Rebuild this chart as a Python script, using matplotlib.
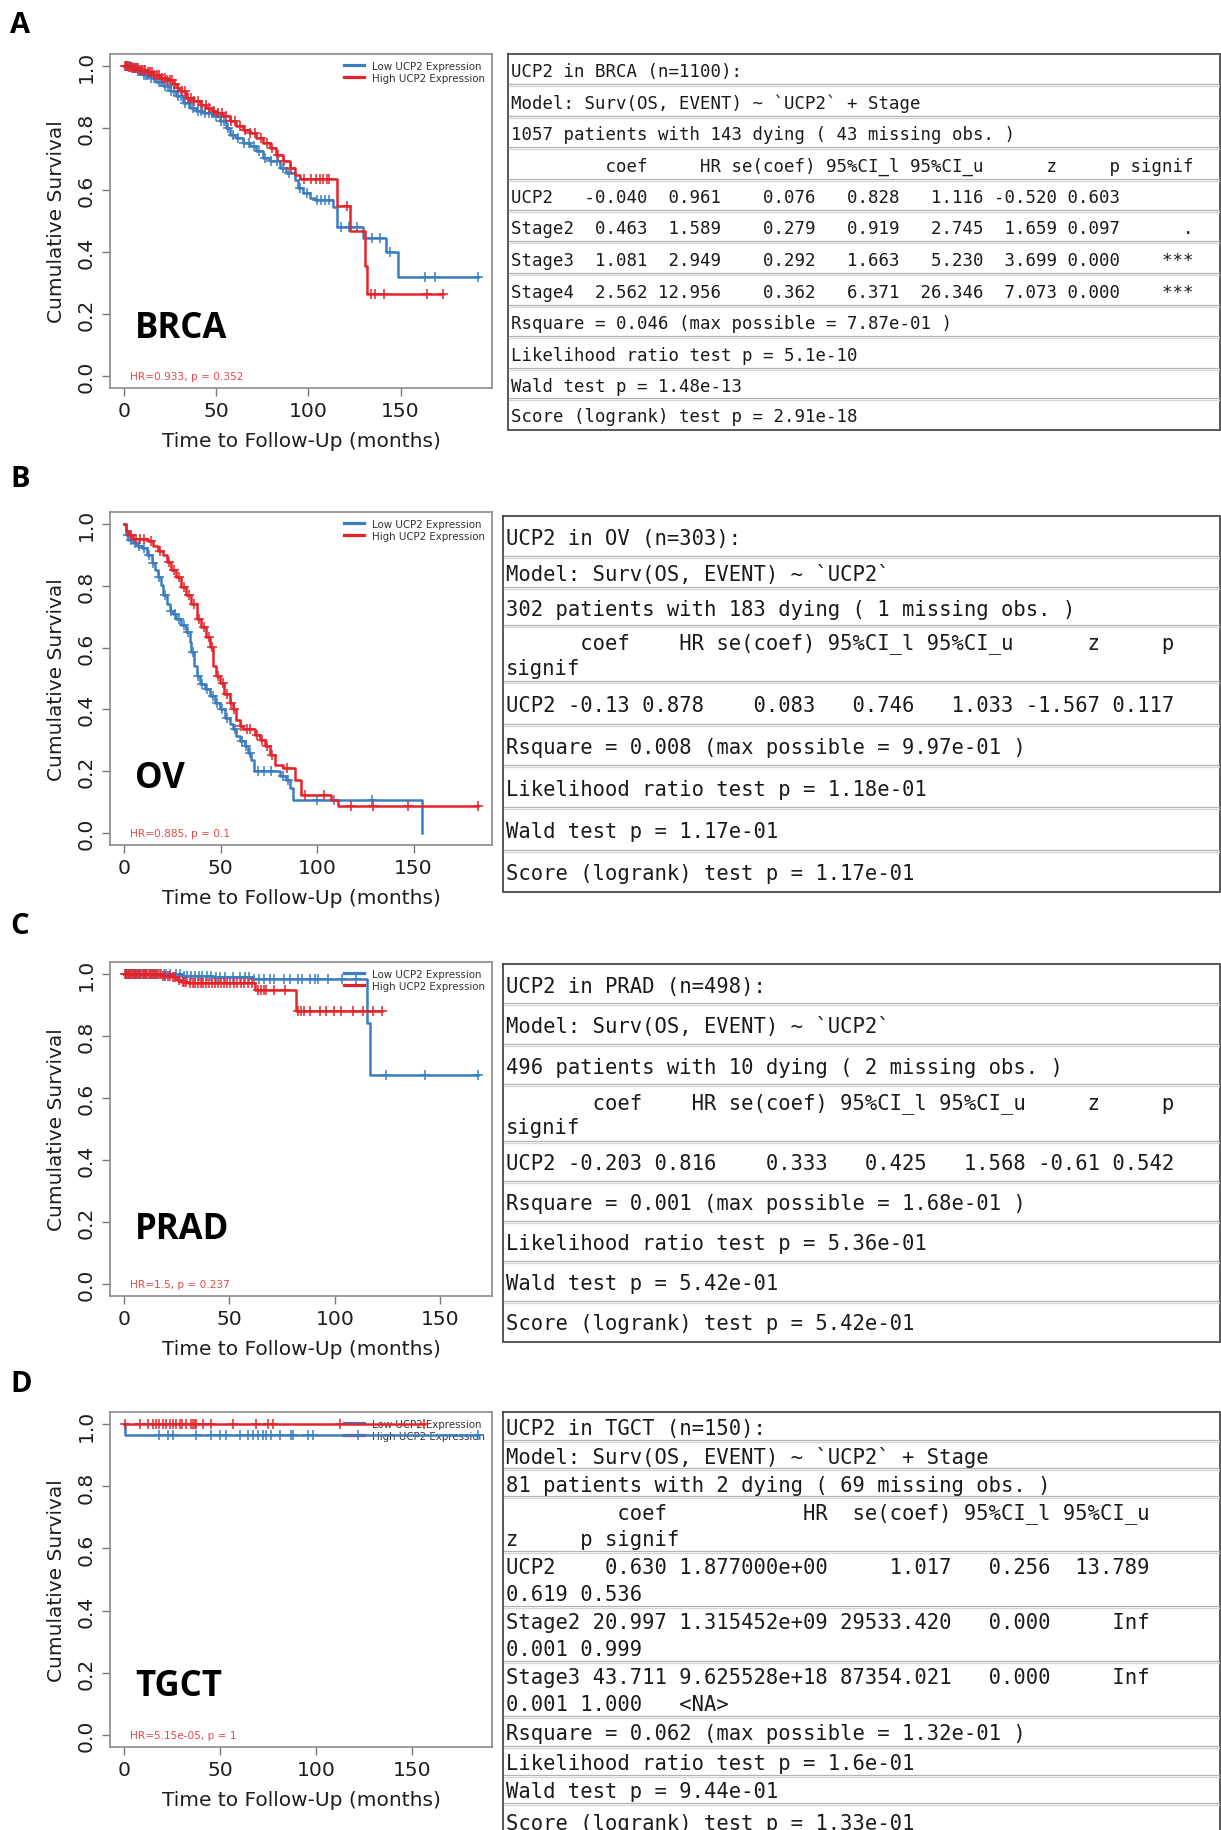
import textwrap
import numpy as np
import matplotlib
matplotlib.use("Agg")
import matplotlib.pyplot as plt
import matplotlib.transforms as mtransforms
from matplotlib.lines import Line2D

W, H = 1221, 1831
BLUE = "#3a7dc2"
RED = "#e3242b"

# ---------------- Kaplan-Meier data ----------------
# BRCA
brca_low_t = [0, 3.1, 6.7, 10.3, 13.9, 17.5, 21.1, 24.8, 28.4, 32.0, 35.6, 39.2, 42.8, 48.3,
              51.9, 55.5, 57.3, 60.9, 64.5, 68.1, 71.8, 75.4, 79.0, 84.4, 88.0, 92.5, 94.3,
              97.0, 100.7, 103.4, 113.3, 115.5, 129.6, 142.2, 148.6]
brca_low_s = [1.0, 0.995, 0.984, 0.971, 0.962, 0.951, 0.935, 0.919, 0.903, 0.881, 0.865, 0.857,
              0.849, 0.838, 0.822, 0.800, 0.779, 0.768, 0.752, 0.741, 0.725, 0.703, 0.693,
              0.671, 0.655, 0.633, 0.606, 0.590, 0.574, 0.569, 0.544, 0.482, 0.444, 0.401, 0.320]
brca_low_end = 191.9
brca_low_cens = [0.8, 1.5, 2.3, 3.0, 4.4, 5.3, 6.2, 7.4, 8.3, 9.2, 10.5, 11.9, 13.2, 14.6, 16.0,
                 17.1, 18.7, 20.2, 22.4, 24.0, 25.6, 27.3, 29.0, 30.8, 33.1, 35.0, 37.2, 39.8,
                 41.6, 43.7, 45.9, 47.8, 49.6, 52.5, 54.3, 56.4, 59.2, 62.0, 64.9, 67.5, 70.3,
                 73.1, 76.4, 79.8, 82.7, 86.1, 89.5, 95.5, 99.0, 104.5, 106.8, 109.2, 111.0,
                 117.6, 122.0, 126.5, 134.6, 138.6, 144.0, 163.0, 168.4, 191.9]
brca_high_t = [0, 2.2, 4.9, 8.5, 12.1, 15.7, 19.3, 23.0, 26.6, 28.5, 30.2, 33.8, 37.4, 41.0,
               44.6, 47.5, 50.1, 53.7, 57.3, 60.9, 64.5, 68.1, 71.8, 75.4, 79.0, 82.6, 86.2,
               89.8, 92.5, 95.2, 115.7, 122.4, 130.9, 131.9]
brca_high_s = [1.0, 0.998, 0.995, 0.989, 0.982, 0.973, 0.964, 0.957, 0.943, 0.930, 0.919, 0.897,
               0.887, 0.876, 0.865, 0.857, 0.849, 0.838, 0.822, 0.806, 0.795, 0.784, 0.768,
               0.752, 0.736, 0.714, 0.693, 0.671, 0.649, 0.635, 0.547, 0.469, 0.353, 0.263]
brca_high_end = 173.0
brca_high_cens = [0.5, 1.2, 1.8, 2.6, 3.3, 4.1, 5.0, 5.8, 6.9, 7.7, 8.8, 9.6, 10.7, 11.5, 12.8,
                  13.9, 15.1, 16.4, 17.8, 19.0, 20.6, 21.9, 23.5, 24.7, 26.1, 27.8, 29.4, 31.2,
                  32.9, 34.6, 36.3, 38.1, 40.2, 42.0, 44.3, 46.2, 48.5, 50.7, 53.0, 55.2, 57.9,
                  60.3, 63.1, 65.8, 68.4, 71.2, 74.0, 77.3, 80.1, 83.5, 86.9, 90.4, 97.5, 101.2,
                  104.0, 106.3, 108.1, 109.9, 111.4, 120.8, 134.0, 136.3, 141.0, 164.4, 173.0]

# OV
ov_low_t = [0, 1.2, 2.1, 4.7, 6.9, 9.0, 11.6, 14.2, 15.9, 17.6, 19.0, 20.2, 22.0, 23.6, 25.4,
            27.1, 29.7, 32.3, 34.0, 34.9, 36.1, 37.5, 39.2, 41.8, 44.4, 47.0, 49.5, 52.1, 54.7,
            56.4, 58.2, 59.9, 62.5, 64.2, 65.9, 67.1, 80.6, 84.1, 86.1, 87.5, 154.5]
ov_low_s = [1.0, 0.965, 0.949, 0.941, 0.930, 0.922, 0.900, 0.873, 0.851, 0.829, 0.802, 0.770,
            0.742, 0.720, 0.710, 0.693, 0.672, 0.650, 0.617, 0.585, 0.541, 0.509, 0.482, 0.465,
            0.443, 0.422, 0.400, 0.373, 0.351, 0.335, 0.313, 0.297, 0.280, 0.259, 0.237, 0.199,
            0.183, 0.172, 0.145, 0.107, 0.0]
ov_low_end = 154.5
ov_low_cens = [1.8, 3.3, 5.6, 7.9, 10.3, 12.9, 15.0, 18.3, 21.1, 24.4, 26.2, 28.4, 31.0, 33.2,
               35.5, 38.4, 40.5, 43.0, 45.8, 48.3, 50.5, 53.4, 57.3, 61.0, 63.3, 65.0, 69.5,
               72.6, 76.0, 82.5, 85.0, 99.8, 108.8, 128.5]
ov_high_t = [0, 1.0, 2.5, 4.7, 12.5, 15.0, 17.6, 20.2, 22.0, 24.5, 27.0, 29.7, 32.3, 34.9, 37.5,
             40.0, 42.6, 44.4, 46.0, 47.8, 49.5, 52.0, 54.7, 56.4, 58.2, 59.9, 61.6, 67.7, 70.3,
             72.8, 75.4, 78.0, 82.3, 88.5, 91.5, 107.4, 110.8]
ov_high_s = [1.0, 0.980, 0.965, 0.954, 0.945, 0.930, 0.915, 0.900, 0.878, 0.851, 0.829, 0.797,
             0.770, 0.742, 0.693, 0.666, 0.634, 0.601, 0.541, 0.509, 0.487, 0.449, 0.422, 0.400,
             0.367, 0.346, 0.337, 0.318, 0.302, 0.280, 0.253, 0.221, 0.210, 0.170, 0.123,
             0.107, 0.085]
ov_high_end = 183.3
ov_high_cens = [3.5, 6.0, 8.3, 10.5, 13.8, 18.7, 23.0, 25.8, 28.5, 31.0, 33.6, 36.0, 38.6, 41.2,
                44.0, 45.3, 48.6, 51.0, 53.2, 55.5, 57.0, 60.5, 63.8, 65.3, 69.0, 71.5, 74.2,
                76.8, 84.5, 93.5, 103.5, 117.8, 129.0, 147.0, 183.3]

# PRAD
prad_low_t = [0, 27.0, 42.0, 61.0, 115.4, 116.8]
prad_low_s = [1.0, 0.996, 0.990, 0.984, 0.843, 0.675]
prad_low_end = 167.9
prad_low_cens = [0.8, 1.5, 2.2, 3.4, 4.2, 5.0, 5.8, 6.6, 7.4, 8.9, 9.8, 10.6, 12.2, 13.2, 14.0,
                 15.8, 17.3, 18.8, 20.0, 22.0, 24.4, 26.5, 28.2, 30.0, 31.8, 33.4, 35.3, 37.0,
                 39.2, 41.0, 43.5, 45.3, 48.0, 51.5, 54.8, 57.5, 59.5, 61.8, 64.0, 66.5, 69.0,
                 71.2, 75.8, 78.8, 82.4, 84.6, 88.4, 90.5, 92.0, 96.8, 103.5, 110.0, 124.2,
                 142.6, 167.9]
prad_high_t = [0, 17.5, 22.5, 25.0, 27.0, 30.5, 62.0, 81.7]
prad_high_s = [1.0, 0.996, 0.990, 0.982, 0.976, 0.973, 0.951, 0.881]
prad_high_end = 122.5
prad_high_cens = [0.5, 1.1, 1.7, 2.4, 3.0, 3.8, 4.5, 5.2, 6.1, 6.9, 7.6, 8.5, 9.3, 10.2, 11.0,
                  11.9, 12.8, 13.6, 14.5, 15.3, 16.2, 17.0, 18.3, 19.5, 20.7, 21.8, 23.4, 24.2,
                  26.0, 27.7, 28.6, 29.5, 31.4, 32.6, 33.8, 35.1, 36.3, 37.6, 38.9, 40.3, 41.8,
                  43.2, 44.6, 46.1, 47.5, 49.0, 50.4, 52.1, 53.8, 55.6, 57.0, 58.9, 60.5, 63.5,
                  64.8, 66.2, 67.5, 70.9, 76.5, 82.5, 84.0, 85.5, 88.3, 92.8, 95.6, 99.5, 103.0,
                  108.4, 113.2, 118.0, 122.5]

# TGCT
tgct_low_t = [0, 0.6]
tgct_low_s = [1.0, 0.966]
tgct_low_end = 184.2
tgct_low_cens = [18.2, 22.9, 25.5, 37.6, 45.4, 49.8, 53.2, 60.2, 64.5, 67.1, 69.7, 72.3, 74.0,
                 76.6, 81.0, 87.0, 87.9, 95.7, 98.3, 121.7, 184.2]
tgct_high_t = [0]
tgct_high_s = [1.0]
tgct_high_end = 156.4
tgct_high_cens = [0.3, 8.1, 12.5, 15.1, 16.5, 18.2, 20.3, 22.0, 23.8, 25.5, 27.2, 29.0, 30.3,
                  32.4, 35.0, 35.9, 36.8, 37.6, 41.1, 45.4, 56.7, 68.8, 74.9, 77.5, 112.2, 156.4]

panel_names = ["BRCA", "OV", "PRAD", "TGCT"]
panel_letters = ["A", "B", "C", "D"]
hr_texts = ["HR=0.933, p = 0.352", "HR=0.885, p = 0.1", "HR=1.5, p = 0.237",
            "HR=5.15e-05, p = 1"]
legend_labels = ["Low UCP2 Expression", "High UCP2 Expression"]

# ---------------- Cox model tables ----------------
col_heads = ["coef", "HR", "se(coef)", "95%CI_l", "95%CI_u", "z", "p", "signif"]

brca_rows = ["UCP2", "Stage2", "Stage3", "Stage4"]
brca_cols = [["-0.040", "0.463", "1.081", "2.562"],
             ["0.961", "1.589", "2.949", "12.956"],
             ["0.076", "0.279", "0.292", "0.362"],
             ["0.828", "0.919", "1.663", "6.371"],
             ["1.116", "2.745", "5.230", "26.346"],
             ["-0.520", "1.659", "3.699", "7.073"],
             ["0.603", "0.097", "0.000", "0.000"],
             ["", ".", "***", "***"]]
brca_head = ["UCP2 in BRCA (n=1100):", "Model: Surv(OS, EVENT) ~ `UCP2` + Stage",
             "1057 patients with 143 dying ( 43 missing obs. )"]
brca_tail = ["Rsquare = 0.046 (max possible = 7.87e-01 )", "Likelihood ratio test p = 5.1e-10",
             "Wald test p = 1.48e-13", "Score (logrank) test p = 2.91e-18"]

ov_rows = ["UCP2"]
ov_cols = [["-0.13"], ["0.878"], ["0.083"], ["0.746"], ["1.033"], ["-1.567"], ["0.117"], [""]]
ov_head = ["UCP2 in OV (n=303):", "Model: Surv(OS, EVENT) ~ `UCP2`",
           "302 patients with 183 dying ( 1 missing obs. )"]
ov_tail = ["Rsquare = 0.008 (max possible = 9.97e-01 )", "Likelihood ratio test p = 1.18e-01",
           "Wald test p = 1.17e-01", "Score (logrank) test p = 1.17e-01"]

prad_rows = ["UCP2"]
prad_cols = [["-0.203"], ["0.816"], ["0.333"], ["0.425"], ["1.568"], ["-0.61"], ["0.542"], [""]]
prad_head = ["UCP2 in PRAD (n=498):", "Model: Surv(OS, EVENT) ~ `UCP2`",
             "496 patients with 10 dying ( 2 missing obs. )"]
prad_tail = ["Rsquare = 0.001 (max possible = 1.68e-01 )", "Likelihood ratio test p = 5.36e-01",
             "Wald test p = 5.42e-01", "Score (logrank) test p = 5.42e-01"]

tgct_rows = ["UCP2", "Stage2", "Stage3"]
tgct_cols = [["0.630", "20.997", "43.711"],
             ["1.877000e+00", "1.315452e+09", "9.625528e+18"],
             ["1.017", "29533.420", "87354.021"],
             ["0.256", "0.000", "0.000"],
             ["13.789", "Inf", "Inf"],
             ["0.619", "0.001", "0.001"],
             ["0.536", "0.999", "1.000"],
             ["", "", "<NA>"]]
tgct_head = ["UCP2 in TGCT (n=150):", "Model: Surv(OS, EVENT) ~ `UCP2` + Stage",
             "81 patients with 2 dying ( 69 missing obs. )"]
tgct_tail = ["Rsquare = 0.062 (max possible = 1.32e-01 )", "Likelihood ratio test p = 1.6e-01",
             "Wald test p = 9.44e-01", "Score (logrank) test p = 1.33e-01"]


def r_print(rownames, cols):
    # mimic R's print of a data.frame: right aligned columns, single space apart
    rw = max(len(r) for r in rownames)
    widths = [max([len(h)] + [len(v) for v in c]) for h, c in zip(col_heads, cols)]
    out = [(" " * rw + "".join(" " + h.rjust(w) for h, w in zip(col_heads, widths))).rstrip()]
    for i, r in enumerate(rownames):
        out.append((r.ljust(rw) + "".join(" " + c[i].rjust(w) for c, w in zip(cols, widths))).rstrip())
    return out


fig = plt.figure(figsize=(W / 100, H / 100), dpi=100)
ov = fig.add_axes([0, 0, 1, 1])
ov.set_xlim(0, W)
ov.set_ylim(H, 0)
ov.axis("off")


def px_rect(left, top, right, bottom):
    return [left / W, 1 - bottom / H, (right - left) / W, (bottom - top) / H]


def km_panel(box, curves, name, name_y, hr):
    ax = fig.add_axes(px_rect(*box))
    ends = []
    for (t, s, end, cens), col in zip(curves, (BLUE, RED)):
        tt = list(t) + [end]
        ss = list(s) + [s[-1]]
        ax.step(tt, ss, where="post", color=col, lw=1.8, zorder=3)
        c = np.array(cens)
        idx = np.searchsorted(np.array(t), c, side="right") - 1
        ax.plot(c, np.array(s)[idx], ls="none", marker="+", ms=6.5, mew=1.1,
                color=col, zorder=3)
        ends.append(end)
    tmax = max(ends)
    ax.set_xlim(-0.04 * tmax, 1.04 * tmax)
    ax.set_ylim(-0.04, 1.04)
    ax.set_xticks([0, 50, 100, 150])
    yt = [0, 0.2, 0.4, 0.6, 0.8, 1.0]
    ax.set_yticks(yt)
    ax.set_yticklabels(["%.1f" % v for v in yt], rotation=90, va="center")
    for sp in ax.spines.values():
        sp.set_color("#8a8a8a")
        sp.set_linewidth(1.2)
    ax.tick_params(direction="out", length=5.8, width=1.0, color="#777777",
                   labelsize=14.6, labelcolor="#1e1e1e")
    ax.tick_params(axis="x", pad=3.5)
    ax.tick_params(axis="y", pad=4.5)
    ax.set_xlabel("Time to Follow-Up (months)", fontsize=14.5, color="#1e1e1e")
    ax.set_ylabel("Cumulative Survival", fontsize=14.5, color="#1e1e1e")
    ax.xaxis.set_label_coords(0.5, -0.128)
    ax.yaxis.set_label_coords(-0.115, 0.5)
    handles = [Line2D([], [], color=BLUE, lw=2.3), Line2D([], [], color=RED, lw=2.3)]
    leg = ax.legend(handles, legend_labels, loc="upper right", frameon=False, fontsize=7.4,
                    handlelength=2.0, handletextpad=0.8, labelspacing=0.22,
                    borderaxespad=0.2, borderpad=0.45)
    for tx in leg.get_texts():
        tx.set_color("#333333")
    leg.set_zorder(1)
    ax.text(0.065, name_y, name, transform=ax.transAxes, fontsize=25,
            family="Open Sans", weight="bold", va="baseline", ha="left")
    tr = mtransforms.blended_transform_factory(ax.transAxes, ax.transData)
    ax.text(0.052, 0.0, hr, transform=tr, fontsize=7.6, color="#e8474a", va="center")
    return ax


def draw_table(left, right, bounds, rows, fsize, wrap, gap):
    top, bot = bounds[0], bounds[-1]
    ov.plot([left, right, right, left, left], [top, top, bot, bot, top],
            color="#4a4a4a", lw=1.3, solid_joinstyle="miter")
    for y in bounds[1:-1]:
        ov.plot([left + 1, right - 1], [y - 1, y - 1], color="#b3b3b3", lw=0.9)
        ov.plot([left + 1, right - 1], [y + 1.3, y + 1.3], color="#d6d6d6", lw=0.9)
    for i, row in enumerate(rows):
        lines = textwrap.wrap(row, width=wrap, break_on_hyphens=False) or [row]
        yc = (bounds[i] + bounds[i + 1]) / 2 + 1.5
        n = len(lines)
        for j, ln in enumerate(lines):
            ov.text(left + 3, yc + (j - (n - 1) / 2) * gap, ln, family="DejaVu Sans Mono",
                    fontsize=fsize, va="center", ha="left", color="#1a1a1a")


boxes = [(110, 55, 492, 389), (110, 513, 492, 846), (110, 963, 492, 1297), (110, 1413, 492, 1748)]
name_ys = [0.152, 0.173, 0.173, 0.155]
curves = [
    [(brca_low_t, brca_low_s, brca_low_end, brca_low_cens),
     (brca_high_t, brca_high_s, brca_high_end, brca_high_cens)],
    [(ov_low_t, ov_low_s, ov_low_end, ov_low_cens),
     (ov_high_t, ov_high_s, ov_high_end, ov_high_cens)],
    [(prad_low_t, prad_low_s, prad_low_end, prad_low_cens),
     (prad_high_t, prad_high_s, prad_high_end, prad_high_cens)],
    [(tgct_low_t, tgct_low_s, tgct_low_end, tgct_low_cens),
     (tgct_high_t, tgct_high_s, tgct_high_end, tgct_high_cens)],
]
for k in range(4):
    km_panel(boxes[k], curves[k], panel_names[k], name_ys[k], hr_texts[k])

letter_base = [33, 487, 934, 1392]
for k in range(4):
    fig.text(10 / W, 1 - letter_base[k] / H, panel_letters[k], fontsize=21,
             family="Open Sans", weight="bold", va="baseline", ha="left")

draw_table(508, 1220, [55, 86, 118, 149, 181, 212, 243, 275, 307, 338, 370, 400, 431],
           brca_head + r_print(brca_rows, brca_cols) + brca_tail, 12.5, 68, 25)
draw_table(503, 1220, [517, 558, 589, 627, 683, 726, 767, 809, 852, 893],
           ov_head + r_print(ov_rows, ov_cols) + ov_tail, 14.8, 57, 25)
draw_table(503, 1220, [965, 1005, 1046, 1086, 1143, 1183, 1223, 1263, 1303, 1343],
           prad_head + r_print(prad_rows, prad_cols) + prad_tail, 14.8, 57, 25)
draw_table(503, 1220, [1413, 1442, 1470, 1498, 1553, 1608, 1663, 1718, 1748, 1777, 1805, 1840],
           tgct_head + r_print(tgct_rows, tgct_cols) + tgct_tail, 14.8, 57, 27)

fig.savefig("out.png", dpi=100)
